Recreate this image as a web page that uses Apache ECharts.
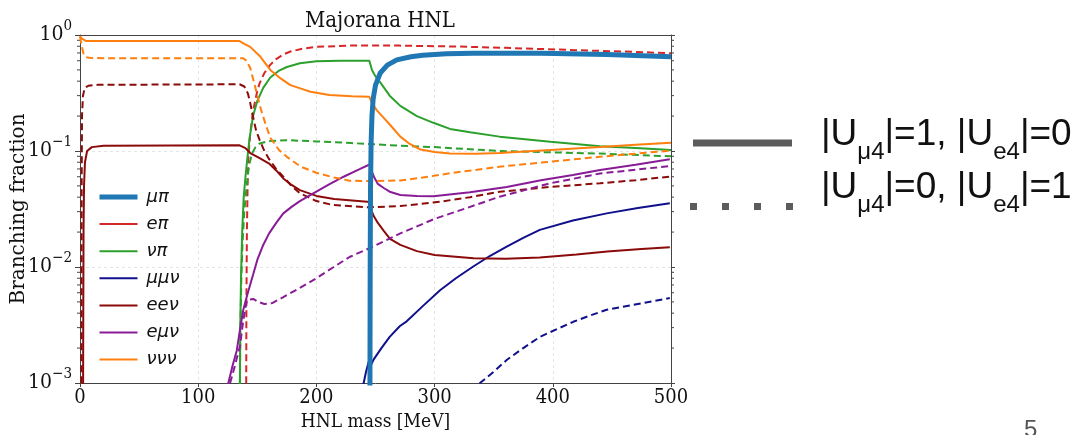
<!DOCTYPE html>
<html><head><meta charset="utf-8">
<script src="https://cdn.jsdelivr.net/npm/echarts@6/dist/echarts.min.js"></script>
<style>html,body{margin:0;padding:0;background:#fff}#c{width:1079px;height:435px}</style>
</head><body><div id="c"></div>
<script>
// ---------- data (x = HNL mass [MeV], y = branching fraction) ----------
const xTicks = [0, 100, 200, 300, 400, 500];
const legendNames = ['μπ', 'eπ', 'νπ', 'μμν', 'eeν', 'eμν', 'ννν'];

// solid: |U_mu4|=1, |U_e4|=0
const muPiSolid = [[245.3,0.0008],[245.5,0.01],[245.8,0.05],[246.3,0.12],[247,0.2],[248,0.28],[250,0.37],[254,0.47],[260,0.55],[268,0.61],[280,0.65],[290,0.67],[310,0.69],[333,0.697],[390,0.695],[446,0.68],[500,0.65]];
const ePiSolid = [];
const nuPiSolid = [[135.2,0.0008],[135.6,0.003],[136.2,0.008],[137.2,0.02],[138.5,0.04],[140,0.06],[141.5,0.085],[143.5,0.13],[146.4,0.2],[150,0.27],[155,0.35],[161,0.43],[168,0.49],[175,0.53],[186,0.57],[200,0.595],[220,0.6],[244.8,0.6],[247,0.5],[250,0.44],[254,0.39],[262,0.3],[271,0.245],[285,0.2],[299,0.175],[313,0.155],[330,0.145],[355,0.133],[398,0.12],[440,0.11],[470,0.106],[500,0.102]];
const muMuNuSolid = [[239,0.0008],[240,0.001],[242,0.00125],[244.3,0.00153],[246.5,0.00145],[248.5,0.0016],[255,0.002],[262,0.0025],[270.7,0.0031],[276.4,0.0034],[290,0.0046],[304.6,0.0063],[318,0.008],[332.7,0.0101],[347,0.0125],[361,0.015],[375,0.0178],[389,0.0209],[417,0.0252],[445.6,0.029],[472,0.0322],[499,0.0354]];
const eeNuSolid = [[2.6,0.0008],[2.8,0.005],[3,0.02],[3.4,0.05],[4.2,0.08],[6,0.1],[10,0.108],[20,0.111],[135,0.112],[140,0.106],[144,0.096],[152,0.087],[160,0.078],[166,0.068],[172,0.058],[179,0.051],[186,0.046],[200,0.041],[215,0.0385],[243,0.0366],[245.3,0.0364],[246.5,0.031],[248.5,0.0275],[252,0.024],[257,0.0205],[262.3,0.0175],[271,0.0155],[285,0.0137],[300,0.0127],[333,0.0119],[360,0.0118],[389,0.0121],[420,0.0128],[446,0.0136],[475,0.0143],[499,0.0148]];
const eMuNuSolid = [[125,0.0008],[125.5,0.001],[129,0.0014],[132.6,0.0019],[135.4,0.0029],[138.2,0.0043],[142,0.006],[146.6,0.0087],[150,0.0115],[155,0.0155],[160,0.0195],[166,0.024],[172,0.029],[179,0.033],[186,0.037],[197,0.043],[210,0.051],[223,0.06],[237,0.07],[245,0.0765],[247,0.066],[249,0.059],[252,0.052],[257,0.048],[262,0.0446],[271,0.0418],[285,0.041],[299,0.0408],[330,0.044],[361,0.049],[390,0.056],[417,0.062],[440,0.0686],[470,0.076],[499,0.085]];
const nuNuNuSolid = [[0,0.98],[1.5,0.93],[3,0.9],[5,0.888],[20,0.887],[135,0.887],[139,0.84],[144,0.79],[152,0.66],[161,0.5],[170,0.42],[178,0.37],[187,0.345],[195,0.324],[211,0.304],[230,0.297],[244.8,0.293],[247,0.26],[251,0.225],[256,0.198],[263,0.165],[271,0.133],[279,0.115],[288,0.103],[300,0.098],[313,0.095],[335,0.0945],[355,0.096],[398,0.102],[440,0.108],[470,0.113],[500,0.118]];

// dashed: |U_mu4|=0, |U_e4|=1
const ePiDashed = [[140.6,0.0008],[140.8,0.005],[141.2,0.02],[141.8,0.05],[142.5,0.09],[144,0.14],[146.4,0.22],[150,0.33],[152,0.385],[156,0.47],[160.7,0.55],[166,0.62],[172,0.68],[178,0.72],[188,0.76],[200,0.79],[228,0.81],[270,0.81],[320,0.795],[360,0.775],[420,0.74],[470,0.715],[500,0.695]];
const nuPiDashed = [[135.2,0.0008],[135.7,0.003],[136.5,0.008],[137.5,0.016],[139,0.03],[141,0.05],[143,0.075],[145.5,0.095],[148.5,0.108],[152,0.116],[160,0.122],[175,0.124],[200,0.121],[230,0.117],[271,0.111],[300,0.108],[355,0.1],[440,0.095],[500,0.09]];
const muMuNuDashed = [[336,0.0008],[338.4,0.001],[350,0.00125],[361,0.00158],[375,0.002],[389.2,0.0025],[403,0.0029],[417.3,0.00337],[431,0.0038],[445.6,0.00428],[472,0.0048],[499,0.0054]];
const eeNuDashed = [[1.2,0.0008],[1.4,0.05],[1.7,0.2],[2.5,0.3],[4,0.35],[7,0.365],[15,0.372],[135,0.376],[139,0.36],[142,0.314],[144,0.26],[146.4,0.197],[149,0.15],[152,0.124],[156,0.1],[160,0.085],[166,0.07],[172,0.06],[179,0.05],[186,0.0432],[200,0.037],[214,0.0342],[243,0.0327],[271,0.0335],[305,0.0366],[330,0.04],[355,0.0445],[398,0.049],[440,0.0527],[470,0.056],[499,0.0601]];
const eMuNuDashed = [[126.5,0.0008],[127,0.001],[131,0.0014],[135.4,0.0021],[138.2,0.0035],[140.5,0.0048],[141.5,0.0052],[146.6,0.0053],[151,0.005],[156,0.0048],[163,0.0049],[172,0.0055],[186,0.0066],[200,0.008],[214,0.0099],[228,0.0122],[248,0.015],[271,0.0195],[300,0.026],[327,0.0322],[355,0.0404],[398,0.0527],[440,0.064],[470,0.069],[499,0.0742]];
const nuNuNuDashed = [[0,0.97],[1.5,0.8],[3,0.69],[5,0.645],[10,0.632],[138,0.63],[141,0.6],[144,0.52],[147,0.4],[150,0.3],[153,0.23],[157,0.17],[161,0.13],[168,0.103],[175,0.089],[187,0.073],[200.5,0.0646],[215,0.059],[228,0.0555],[250,0.055],[271,0.0558],[290,0.059],[313,0.0643],[355,0.0732],[398,0.0809],[440,0.0893],[499,0.1006]];

// minor tick positions of the log axis (2..9 x 10^k)
const yMinorTicks = [];
for (let k = -3; k < 0; k++) for (let m = 2; m <= 9; m++) yMinorTicks.push(m * Math.pow(10, k));

// ---------- styling ----------
const SERIF = '"DejaVu Serif", serif';
const SERIFC = '"DejaVu Serif Condensed", "DejaVu Serif", serif';
const SANS = '"Liberation Sans", Arial, sans-serif';
const C = { blue:'#1f77b4', red:'#d62728', green:'#2ca02c', navy:'#10108c', dred:'#8b0a0a', purple:'#881c96', orange:'#ff7f0e' };
const DASH = [7, 4];
const Y_MIN = 0.001, Y_MAX = 1;

function line(name, data, color, dashed, width) {
  return { name, type:'line', data, symbol:'none', showSymbol:false, clip:true,
    lineStyle:{ color, width: width || 2, type: dashed ? DASH : 'solid' },
    itemStyle:{ color }, emphasis:{disabled:true}, z: 3 };
}
const subRich = {
  m:{ fontFamily:SANS, fontSize:37, fill:'#111', lineHeight:42 },
  s:{ fontFamily:SANS, fontSize:24, fill:'#111', lineHeight:24, verticalAlign:'bottom', padding:[0,0,-8,0] }
};

const chart = echarts.init(document.getElementById('c'), null, {renderer:'canvas'});
chart.setOption({
  animation:false,
  backgroundColor:'#fff',
  title:{ text:'Majorana HNL', left:375, textAlign:'center', top:5,
    textStyle:{ fontFamily:SERIFC, fontSize:22, fontWeight:'normal', color:'#111' } },
  grid:{ left:80, right:408, top:35, bottom:52, containLabel:false, outerBoundsMode:'none' },
  legend:{ data: legendNames.map((n, i) => ({ name:n, lineStyle:{ width: i === 0 ? 5 : 2 } })),
    orient:'vertical', left:92, top:183, itemWidth:38, itemHeight:14, itemGap:9.1,
    itemStyle:{ opacity:0, color:'transparent', borderWidth:0 },
    textStyle:{ fontFamily:'"DejaVu Sans", sans-serif', fontStyle:'italic', fontSize:18, color:'#111', padding:[0,0,0,4] },
    selectedMode:false },
  xAxis:[{ type:'value', min:xTicks[0], max:xTicks[xTicks.length-1], interval:100,
      name:'HNL mass [MeV]', nameLocation:'middle', nameGap:30, nameMoveOverlap:false,
      nameTextStyle:{ fontFamily:SERIFC, fontSize:19, color:'#111' },
      axisLine:{ show:true, lineStyle:{ color:'#444', width:1 } },
      axisTick:{ show:true, length:4, lineStyle:{ color:'#444' } },
      axisLabel:{ fontFamily:SERIFC, fontSize:20, color:'#111', margin:5,
        formatter:v => xTicks.includes(v) ? String(v) : '' },
      splitLine:{ show:true, lineStyle:{ color:'#e4e4e4', type:[3,3], width:1 } } },
    { type:'value', min:xTicks[0], max:xTicks[xTicks.length-1], position:'top', axisLine:{ show:true, onZero:false, lineStyle:{ color:'#444' } },
      axisTick:{show:false}, axisLabel:{show:false}, splitLine:{show:false} }],
  yAxis:[{ type:'log', logBase:10, min:Y_MIN, max:Y_MAX,
      name:'Branching fraction', nameLocation:'middle', nameGap:51, nameRotate:90, nameMoveOverlap:false,
      nameTextStyle:{ fontFamily:SERIF, fontSize:20, color:'#111' },
      axisLine:{ show:true, lineStyle:{ color:'#444', width:1 } },
      axisTick:{ show:true, length:5, lineStyle:{ color:'#444' } },
      axisLabel:{ margin:8, formatter: v => { const e = Math.round(Math.log10(v)); return '{b|10}{s|' + (e < 0 ? '−' + (-e) : e) + '}'; },
        rich:{ b:{ fontFamily:SERIFC, fontSize:21, color:'#111', lineHeight:32 },
               s:{ fontFamily:SERIFC, fontSize:15, color:'#111', lineHeight:15, verticalAlign:'top' } } },
      splitLine:{ show:true, lineStyle:{ color:'#e4e4e4', type:[3,3], width:1 } } },
    { type:'log', logBase:10, min:Y_MIN, max:Y_MAX, position:'right',
      axisLine:{ show:true, onZero:false, lineStyle:{ color:'#444' } },
      axisTick:{ show:true, length:4, lineStyle:{ color:'#444' } }, axisLabel:{show:false}, splitLine:{show:false} }],
  series:[
    { type:'custom', silent:true, clip:false, z:2, data: yMinorTicks.map(v => [0, v]),
      renderItem:(params, api) => {
        const v = api.value(1); const l = api.coord([xTicks[0], v]); const r = api.coord([xTicks[xTicks.length-1], v]);
        return { type:'group', children:[
          { type:'line', shape:{ x1:l[0]-3, y1:l[1], x2:l[0], y2:l[1] }, style:{ stroke:'#444', lineWidth:1 } },
          { type:'line', shape:{ x1:r[0], y1:r[1], x2:r[0]+3, y2:r[1] }, style:{ stroke:'#444', lineWidth:1 } } ] };
      } },
    line('eπ', ePiSolid, C.red, false),
    line('eπ·e', ePiDashed, C.red, true),
    line('νπ', nuPiSolid, C.green, false),
    line('νπ·e', nuPiDashed, C.green, true),
    line('μμν', muMuNuSolid, C.navy, false),
    line('μμν·e', muMuNuDashed, C.navy, true),
    line('eeν', eeNuSolid, C.dred, false),
    line('eeν·e', eeNuDashed, C.dred, true),
    line('eμν', eMuNuSolid, C.purple, false),
    line('eμν·e', eMuNuDashed, C.purple, true),
    line('ννν', nuNuNuSolid, C.orange, false),
    line('ννν·e', nuNuNuDashed, C.orange, true),
    Object.assign(line('μπ', muPiSolid, C.blue, false, 5), { z:4 })
  ],
  graphic:[
    { type:'line', shape:{ x1:693, y1:143, x2:792, y2:143 }, style:{ stroke:'#5c5c5c', lineWidth:7 } },
    { type:'rect', shape:{ x:690, y:203, width:7, height:7 }, style:{ fill:'#5c5c5c' } },
    { type:'rect', shape:{ x:722, y:203, width:7, height:7 }, style:{ fill:'#5c5c5c' } },
    { type:'rect', shape:{ x:754, y:203, width:7, height:7 }, style:{ fill:'#5c5c5c' } },
    { type:'rect', shape:{ x:786, y:203, width:7, height:7 }, style:{ fill:'#5c5c5c' } },
    { type:'text', x:821, y:114, style:{ text:'{m||U}{s|μ4}{m||=1, |U}{s|e4}{m||=0}', rich:subRich } },
    { type:'text', x:821, y:167, style:{ text:'{m||U}{s|μ4}{m||=0, |U}{s|e4}{m||=1}', rich:subRich } },
    { type:'text', x:1024, y:418, style:{ text:'5', fontFamily:SANS, fontSize:24, fill:'#555' } }
  ]
});
</script></body></html>
